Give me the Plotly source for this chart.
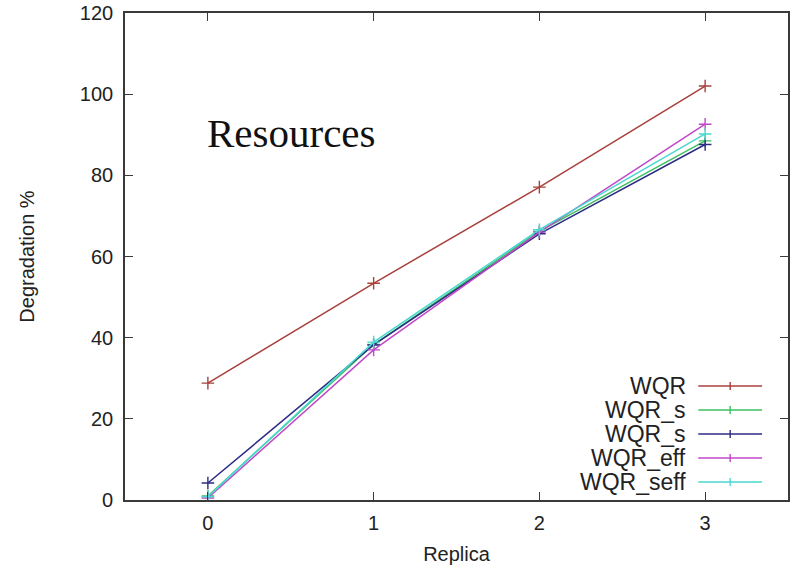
import plotly.graph_objects as go

# Degradation (%) per replica for each scheduling variant
replicas = [0, 1, 2, 3]
series_names = ["WQR", "WQR_s", "WQR_s", "WQR_eff", "WQR_seff"]
wqr = [28.8, 53.4, 77.1, 102.0]
wqr_s_green = [1.0, 38.3, 66.2, 88.5]
wqr_s_blue = [4.2, 38.2, 65.6, 87.6]
wqr_eff = [0.5, 37.0, 66.0, 92.6]
wqr_seff = [0.8, 38.9, 66.6, 90.2]
series_values = [wqr, wqr_s_green, wqr_s_blue, wqr_eff, wqr_seff]
colors = ["#a8403c", "#3cc060", "#2c2c84", "#c048c8", "#48d8d0"]

y_ticks = [0, 20, 40, 60, 80, 100, 120]
x_ticks = [0, 1, 2, 3]

W, H = 792, 572
L, R, T, B = 125, 2, 13, 72
PW, PH = W - L - R, H - T - B

SANS = "Liberation Sans, Arial, sans-serif"

fig = go.Figure()
for name, vals, col in zip(series_names, series_values, colors):
    fig.add_trace(go.Scatter(
        x=replicas, y=vals, name=name, mode="lines+markers",
        line=dict(color=col, width=1.5),
        marker=dict(symbol="cross-thin", size=9, line=dict(color=col, width=1.4)),
        showlegend=False,
    ))

axis_common = dict(
    showgrid=False, zeroline=False, showline=True, linecolor="#3a3a3a", linewidth=1.6,
    mirror="allticks", ticks="inside", ticklen=8, tickcolor="#3a3a3a", tickwidth=1.3,
    tickfont=dict(family=SANS, size=20, color="#222"),
)

fig.update_layout(
    width=W, height=H, autosize=False,
    margin=dict(l=L, r=R, t=T, b=B),
    paper_bgcolor="white", plot_bgcolor="white",
    xaxis=dict(range=[-0.5, 3.5], tickvals=x_ticks, ticklabelstandoff=4, **axis_common,
               title=dict(text="Replica", standoff=14,
                          font=dict(family=SANS, size=20, color="#222"))),
    yaxis=dict(range=[0, 120], tickvals=y_ticks, ticklabelstandoff=6, **axis_common,
               title=dict(text="Degradation %", standoff=40,
                          font=dict(family=SANS, size=20, color="#222"))),
)

def px_x(px):
    return (px - L) / PW

def px_y(py):
    return (H - B - py) / PH

# In-plot label
fig.add_annotation(
    x=px_x(205), y=px_y(133), xref="paper", yref="paper", xanchor="left", yanchor="middle",
    text="Resources", showarrow=False,
    font=dict(family="Liberation Serif, Times New Roman, serif", size=41, color="#111"),
)

# Key in the lower right: label, then a line sample with a point marker
key_rows = [386, 410, 434, 458, 482]
for name, col, ry in zip(series_names, colors, key_rows):
    fig.add_annotation(
        x=px_x(690), y=px_y(ry), xref="paper", yref="paper", xanchor="right", yanchor="middle",
        text=name, showarrow=False,
        font=dict(family=SANS, size=23, color="#222"),
    )
    fig.add_shape(type="line", xref="paper", yref="paper",
                  x0=px_x(700), x1=px_x(764), y0=px_y(ry), y1=px_y(ry),
                  line=dict(color=col, width=1.5))
    fig.add_shape(type="line", xref="paper", yref="paper",
                  x0=px_x(732), x1=px_x(732), y0=px_y(ry - 4), y1=px_y(ry + 4),
                  line=dict(color=col, width=1.4))

fig.write_html("out.html")
